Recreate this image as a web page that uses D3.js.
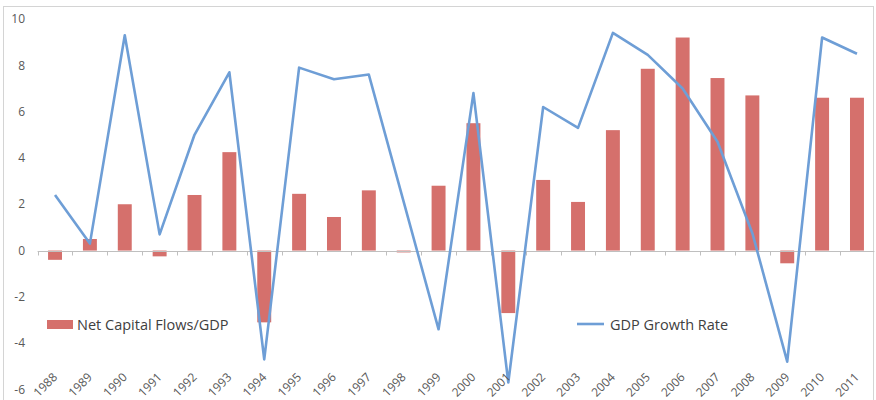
<!DOCTYPE html>
<html>
<head>
<meta charset="utf-8">
<script src="https://cdn.jsdelivr.net/npm/d3@7"></script>
<style>
  body { margin: 0; background: #fff; }
  svg { display: block; font-family: "Open Sans", "Liberation Sans", sans-serif; }
</style>
</head>
<body>
<svg width="876" height="400"></svg>
<script>
// chart data
var years = ["1988", "1989", "1990", "1991", "1992", "1993", "1994", "1995", "1996", "1997", "1998", "1999",
             "2000", "2001", "2002", "2003", "2004", "2005", "2006", "2007", "2008", "2009", "2010", "2011"];
var capitalFlows = [-0.4, 0.5, 2.0, -0.25, 2.4, 4.25, -3.1, 2.45, 1.45, 2.6, -0.08, 2.8,
                    5.5, -2.7, 3.05, 2.1, 5.2, 7.85, 9.2, 7.45, 6.7, -0.55, 6.6, 6.6];
var gdpGrowth = [2.4, 0.3, 9.3, 0.7, 5.0, 7.7, -4.7, 7.9, 7.4, 7.6, 2.1, -3.4,
                 6.8, -5.7, 6.2, 5.3, 9.4, 8.45, 7.0, 4.7, 0.75, -4.8, 9.2, 8.5];
var yTicks = [-6, -4, -2, 0, 2, 4, 6, 8, 10];

var svg = d3.select("svg");

var barColor = "#d5706c",
    lineColor = "#6e9ed6",
    textColor = "#595959";

// outer chart border
svg.append("rect")
    .attr("x", 3.5).attr("y", 6.5)
    .attr("width", 870).attr("height", 400)
    .attr("fill", "none")
    .attr("stroke", "#d4d4d4");

var x = d3.scaleBand()
    .domain(years)
    .range([37.6, 874.4])
    .paddingInner(0.6)
    .paddingOuter(0.3);

// band used for tick positions (no padding)
var xTick = d3.scaleBand().domain(years).range([37.6, 874.4]);

var y = d3.scaleLinear()
    .domain([-6, 10])
    .range([389.5, 19]);

// y labels, no axis line
svg.append("g")
    .selectAll("text")
    .data(yTicks)
    .enter().append("text")
    .attr("x", 25)
    .attr("y", function (d) { return y(d); })
    .attr("dy", "0.35em")
    .attr("text-anchor", "end")
    .attr("font-size", 12)
    .attr("fill", textColor)
    .text(function (d) { return d; });

// bars
svg.append("g")
    .selectAll("rect")
    .data(capitalFlows)
    .enter().append("rect")
    .attr("x", function (d, i) { return x(years[i]); })
    .attr("y", function (d) { return y(Math.max(0, d)); })
    .attr("width", x.bandwidth())
    .attr("height", function (d) { return Math.abs(y(d) - y(0)); })
    .attr("fill", barColor);

// zero axis with tick marks between categories
var zero = svg.append("g")
    .attr("transform", "translate(0," + Math.round(y(0)) + ".5)");
zero.append("line")
    .attr("x1", 37.6).attr("x2", 874.4)
    .attr("stroke", "#bfbfbf");
zero.selectAll(".tk")
    .data(years)
    .enter().append("line")
    .attr("class", "tk")
    .attr("x1", function (d) { return Math.round(xTick(d)) + 0.5; })
    .attr("x2", function (d) { return Math.round(xTick(d)) + 0.5; })
    .attr("y1", 0).attr("y2", 4)
    .attr("stroke", "#bfbfbf");

// growth line
var line = d3.line()
    .x(function (d, i) { return x(years[i]) + x.bandwidth() / 2; })
    .y(function (d) { return y(d); });

svg.append("path")
    .datum(gdpGrowth)
    .attr("d", line)
    .attr("fill", "none")
    .attr("stroke", lineColor)
    .attr("stroke-width", 2.6)
    .attr("stroke-linejoin", "round");

// rotated year labels
svg.append("g")
    .selectAll("text")
    .data(years)
    .enter().append("text")
    .attr("transform", function (d) {
        return "translate(" + (x(d) + x.bandwidth() / 2 + 3) + ",378) rotate(-45)";
    })
    .attr("text-anchor", "end")
    .attr("font-size", 12)
    .attr("fill", textColor)
    .text(function (d) { return d; });

// legend
var legend = svg.append("g").attr("font-size", 14.5).attr("fill", "#404040");
legend.append("rect")
    .attr("x", 47).attr("y", 320)
    .attr("width", 26).attr("height", 9)
    .attr("fill", barColor);
legend.append("text")
    .attr("x", 77).attr("y", 324.5).attr("dy", "0.35em")
    .text("Net Capital Flows/GDP");
legend.append("line")
    .attr("x1", 577).attr("x2", 604)
    .attr("y1", 324).attr("y2", 324)
    .attr("stroke", lineColor)
    .attr("stroke-width", 2.6);
legend.append("text")
    .attr("x", 610).attr("y", 324.5).attr("dy", "0.35em")
    .text("GDP Growth Rate");
</script>
</body>
</html>
